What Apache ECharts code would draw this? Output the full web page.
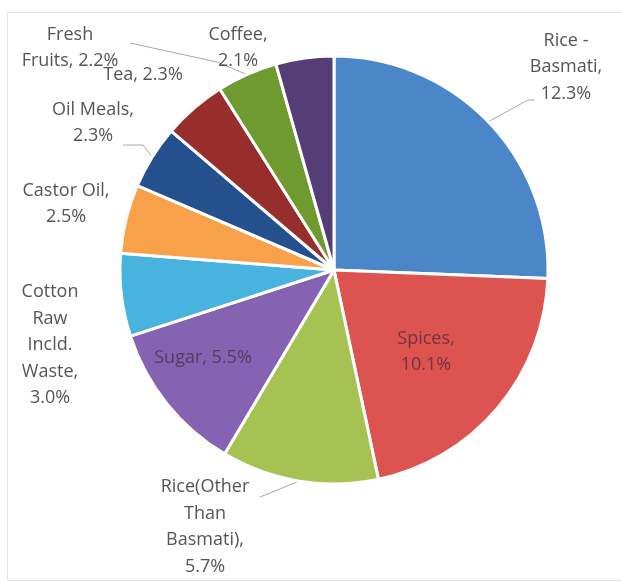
<!DOCTYPE html>
<html>
<head>
<meta charset="utf-8">
<script src="https://cdn.jsdelivr.net/npm/echarts@6/dist/echarts.min.js"></script>
<style>
  html, body { margin: 0; padding: 0; background: #fff; }
  #pie-chart { width: 621px; height: 583px; }
</style>
</head>
<body>
<div id="pie-chart"></div>
<script>
// ==============================================================
// data
// ==============================================================
var categories = ['Rice - Basmati', 'Spices', 'Rice(Other Than Basmati)', 'Sugar',
    'Cotton Raw Incld. Waste', 'Castor Oil', 'Oil Meals', 'Tea', 'Fresh Fruits', 'Coffee'];
var shares = [12.3, 10.1, 5.7, 5.5, 3.0, 2.5, 2.3, 2.3, 2.2, 2.1];
// how each label wraps in the picture
var labelLines = [
    ['Rice -', 'Basmati,'],
    ['Spices,'],
    ['Rice(Other', 'Than', 'Basmati),'],
    ['Sugar,'],
    ['Cotton', 'Raw', 'Incld.', 'Waste,'],
    ['Castor Oil,'],
    ['Oil Meals,'],
    ['Tea,'],
    ['Fresh', 'Fruits,'],
    ['Coffee,']
];
var colors = ['#4a86c8', '#dc5350', '#a5c252', '#8663b2', '#47b3de',
    '#f9a14a', '#24518e', '#982e2b', '#6e9a30', '#553d75'];

// label centre positions, which ones sit inside, and where leader lines meet the text
var labelPos = [[566, 67], [426, 352], [205, 527], [203, 358], [50, 345],
    [66, 204], [93, 123], [143, 75], [70, 48], [238, 48]];
var inside = [false, true, false, true, false, false, false, false, false, false];
// [elbow dx, elbow dy, end dx, end dy] relative to label centre, null = no line
var leaderEnds = [[-38, 33, -31, 33], null, [60, -32, 55, -30], null, null,
    null, [50, 22, 30, 22], null, [147, 14, 60, -5], null];

// ==============================================================
// pie chart option
// ==============================================================
var myChart = echarts.init(document.getElementById('pie-chart'));

var pieData = categories.map(function (name, i) {
    return {
        name: name,
        value: shares[i],
        itemStyle: { color: colors[i] },
        label: inside[i] ? {
            color: 'rgba(70,40,60,0.72)'
        } : {},
        labelLine: { show: leaderEnds[i] !== null }
    };
});

option = {
    animation: false,
    graphic: [{
        type: 'rect',
        shape: { x: 7.5, y: 12.5, width: 640, height: 568 },
        style: { fill: 'none', stroke: '#e3e3e3', lineWidth: 1 }
    }],
    series: [
        {
            name: 'Exports',
            type: 'pie',
            center: [334, 270],
            radius: 214,
            startAngle: 90,
            clockwise: true,
            avoidLabelOverlap: false,
            itemStyle: {
                borderColor: '#fff',
                borderWidth: 3
            },
            label: {
                show: true,
                fontFamily: 'Open Sans',
                fontSize: 18,
                lineHeight: 26.5,
                color: '#555555',
                align: 'center',
                formatter: function (p) {
                    var l = labelLines[p.dataIndex].slice();
                    var last = l.length - 1;
                    var pct = p.value.toFixed(1) + '%';
                    if (p.name === 'Sugar' || p.name === 'Tea' || p.name === 'Fresh Fruits') {
                        l[last] = l[last] + ' ' + pct;
                    } else {
                        l.push(pct);
                    }
                    return l.join('\n');
                }
            },
            labelLine: {
                lineStyle: { color: '#a6a6a6', width: 1 },
                length: 10,
                length2: 10
            },
            labelLayout: function (params) {
                var i = params.dataIndex;
                var pos = labelPos[i];
                var res = {
                    x: pos[0],
                    y: pos[1],
                    align: 'center',
                    verticalAlign: 'middle'
                };
                var e = leaderEnds[i];
                if (e && params.labelLinePoints) {
                    // start where the library puts the slice anchor
                    var start = params.labelLinePoints[0];
                    res.labelLinePoints = [
                        [start[0], start[1]],
                        [pos[0] + e[0], pos[1] + e[1]],
                        [pos[0] + e[2], pos[1] + e[3]]
                    ];
                }
                return res;
            },
            data: pieData
        }
    ]
};

myChart.setOption(option, true);
</script>
</body>
</html>
